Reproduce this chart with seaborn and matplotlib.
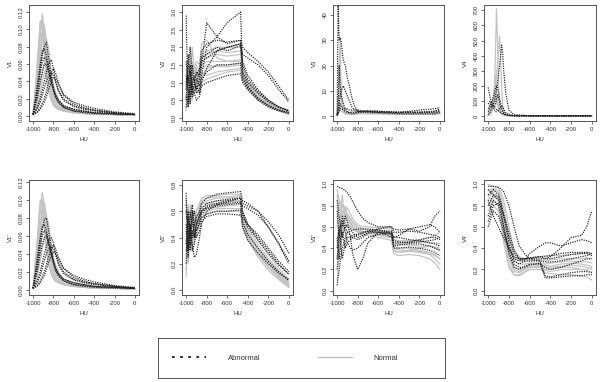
import pandas as pd
import matplotlib
matplotlib.use("Agg")
import matplotlib.pyplot as plt
import seaborn as sns
from matplotlib.lines import Line2D

# ------------------------------------------------------------
# curves (a few representative per group)
# ------------------------------------------------------------
hu_v1 = [-1000, -960, -930, -910, -890, -870, -850, -820, -800, -780, -750, -700, -600, -500, -400, -200, 0]
v1_normal = [
    [0.002, 0.04, 0.09, 0.118, 0.10, 0.07, 0.045, 0.025, 0.018, 0.013, 0.01, 0.007, 0.005, 0.004, 0.003, 0.002, 0.001],
    [0.002, 0.03, 0.07, 0.095, 0.105, 0.09, 0.06, 0.035, 0.025, 0.018, 0.012, 0.008, 0.005, 0.004, 0.003, 0.002, 0.001],
    [0.002, 0.02, 0.05, 0.07, 0.085, 0.09, 0.08, 0.05, 0.035, 0.025, 0.016, 0.01, 0.006, 0.004, 0.003, 0.002, 0.001],
    [0.002, 0.015, 0.035, 0.05, 0.06, 0.065, 0.06, 0.045, 0.035, 0.028, 0.02, 0.012, 0.007, 0.005, 0.003, 0.002, 0.001],
    [0.002, 0.05, 0.10, 0.11, 0.08, 0.05, 0.03, 0.018, 0.013, 0.01, 0.008, 0.006, 0.004, 0.003, 0.002, 0.002, 0.001],
    [0.002, 0.06, 0.11, 0.10, 0.07, 0.045, 0.03, 0.018, 0.013, 0.01, 0.008, 0.006, 0.004, 0.003, 0.002, 0.002, 0.001],
    [0.002, 0.025, 0.06, 0.085, 0.095, 0.08, 0.055, 0.03, 0.022, 0.016, 0.011, 0.007, 0.005, 0.004, 0.003, 0.002, 0.001],
    [0.002, 0.035, 0.075, 0.10, 0.09, 0.065, 0.04, 0.022, 0.016, 0.012, 0.009, 0.006, 0.004, 0.003, 0.002, 0.002, 0.001],
    [0.002, 0.01, 0.025, 0.04, 0.05, 0.055, 0.055, 0.045, 0.036, 0.027, 0.018, 0.011, 0.006, 0.004, 0.003, 0.002, 0.001],
]
v1_abnormal = [
    [0.002, 0.03, 0.055, 0.07, 0.08, 0.085, 0.07, 0.045, 0.032, 0.024, 0.018, 0.012, 0.008, 0.006, 0.004, 0.003, 0.002],
    [0.002, 0.01, 0.02, 0.03, 0.04, 0.05, 0.06, 0.065, 0.055, 0.04, 0.028, 0.018, 0.011, 0.008, 0.006, 0.004, 0.002],
    [0.002, 0.005, 0.01, 0.015, 0.02, 0.028, 0.038, 0.05, 0.055, 0.05, 0.038, 0.024, 0.014, 0.01, 0.007, 0.004, 0.002],
    [0.002, 0.004, 0.008, 0.012, 0.016, 0.022, 0.03, 0.04, 0.045, 0.044, 0.036, 0.025, 0.016, 0.012, 0.009, 0.005, 0.003],
    [0.002, 0.02, 0.04, 0.05, 0.06, 0.06, 0.052, 0.038, 0.03, 0.022, 0.016, 0.01, 0.006, 0.004, 0.003, 0.002, 0.002],
    [0.002, 0.025, 0.05, 0.062, 0.068, 0.065, 0.055, 0.04, 0.032, 0.025, 0.018, 0.012, 0.008, 0.006, 0.004, 0.003, 0.002],
    [0.002, 0.008, 0.016, 0.024, 0.032, 0.04, 0.046, 0.05, 0.048, 0.04, 0.03, 0.02, 0.012, 0.009, 0.007, 0.004, 0.002],
    [0.002, 0.035, 0.06, 0.075, 0.078, 0.07, 0.058, 0.04, 0.03, 0.022, 0.015, 0.01, 0.006, 0.005, 0.004, 0.003, 0.002],
]

hu_v2 = [-1000, -980, -960, -940, -900, -870, -850, -800, -700, -600, -470, -450, -400, -300, -200, -100, 0]
v2_normal = [
    [0.3, 1.2, 0.6, 1.6, 1.0, 0.8, 1.2, 1.4, 1.5, 1.5, 1.55, 1.2, 0.9, 0.6, 0.4, 0.25, 0.15],
    [1.0, 0.5, 1.8, 0.9, 1.4, 1.0, 1.6, 1.7, 1.8, 1.75, 1.8, 1.3, 1.0, 0.65, 0.45, 0.3, 0.2],
    [0.6, 1.5, 1.0, 2.0, 0.7, 1.2, 1.8, 1.9, 2.0, 2.0, 2.0, 1.4, 1.05, 0.7, 0.5, 0.3, 0.2],
    [0.2, 0.9, 1.3, 0.5, 1.1, 0.9, 1.3, 1.2, 1.3, 1.35, 1.4, 1.1, 0.8, 0.5, 0.35, 0.2, 0.1],
    [1.4, 0.7, 0.4, 1.2, 1.6, 1.5, 2.1, 2.2, 1.7, 1.6, 1.6, 1.25, 0.95, 0.55, 0.4, 0.25, 0.15],
    [0.8, 1.6, 0.9, 1.4, 1.2, 1.1, 1.5, 1.6, 1.6, 1.6, 1.65, 1.25, 0.95, 0.6, 0.4, 0.25, 0.15],
    [0.4, 1.0, 1.5, 1.1, 0.9, 1.3, 1.7, 1.8, 1.9, 1.85, 1.9, 1.35, 1.0, 0.65, 0.45, 0.28, 0.18],
    [1.1, 0.3, 0.8, 1.5, 1.3, 0.7, 1.0, 1.1, 1.2, 1.3, 1.35, 1.05, 0.8, 0.5, 0.33, 0.2, 0.1],
    [0.5, 1.3, 0.7, 1.0, 1.5, 1.3, 1.4, 1.5, 1.45, 1.45, 1.5, 1.15, 0.85, 0.55, 0.38, 0.22, 0.12],
]
v2_abnormal = [
    [2.9, 0.3, 1.0, 0.6, 0.9, 0.7, 1.0, 1.4, 1.9, 2.0, 2.1, 1.2, 0.9, 0.55, 0.35, 0.22, 0.15],
    [0.5, 1.4, 2.0, 1.2, 0.8, 1.1, 1.5, 2.7, 2.3, 2.1, 2.2, 2.0, 1.85, 1.6, 1.3, 0.9, 0.5],
    [1.2, 0.8, 0.4, 1.0, 1.1, 0.9, 1.2, 2.0, 2.3, 2.7, 3.0, 1.3, 1.0, 0.7, 0.45, 0.3, 0.2],
    [0.8, 1.8, 1.1, 0.7, 1.3, 1.2, 1.7, 1.8, 2.0, 1.9, 2.05, 1.8, 1.7, 1.5, 1.2, 0.8, 0.45],
    [0.3, 0.6, 1.3, 0.9, 0.5, 0.6, 0.9, 1.0, 1.1, 1.2, 1.25, 1.0, 0.8, 0.5, 0.3, 0.2, 0.12],
    [1.6, 1.0, 1.5, 0.8, 1.0, 1.3, 1.6, 1.7, 1.9, 2.0, 2.1, 1.5, 1.1, 0.75, 0.5, 0.32, 0.2],
    [0.6, 0.4, 0.9, 1.5, 0.7, 0.8, 1.1, 1.3, 1.5, 1.5, 1.55, 1.1, 0.85, 0.55, 0.35, 0.22, 0.15],
    [1.0, 1.2, 0.6, 1.1, 1.2, 1.4, 1.9, 2.1, 2.2, 2.15, 2.2, 1.6, 1.2, 0.8, 0.5, 0.3, 0.2],
]

hu_v3 = [-1000, -990, -980, -970, -960, -940, -920, -900, -880, -860, -840, -800, -700, -600, -400, -200, -50, 0]
v3_normal = [
    [0.5, 5, 20, 30, 8, 2, 1, 1, 1, 1, 1, 1, 1.5, 1.5, 1.2, 1.2, 1.5, 2],
    [0.3, 2, 6, 12, 6, 3, 1.5, 1, 1, 1, 1, 1.5, 1.5, 1.5, 1.2, 1.2, 1.3, 1.5],
    [0.2, 1, 2, 3, 4, 3, 2, 1.5, 1.5, 2, 2, 2, 1.2, 1.0, 0.8, 0.9, 1, 1.2],
    [0.5, 8, 5, 3, 2, 1.5, 1, 1, 1, 1, 1, 1, 1, 1, 1, 1, 1, 1],
    [0.5, 3, 10, 18, 10, 4, 2, 1.5, 1.2, 1.2, 1.2, 1.5, 1.3, 1.2, 1.0, 1.0, 1.1, 1.2],
]
v3_abnormal = [
    [1, 44, 30, 31, 29, 22, 20, 15, 12, 8, 5, 2, 1.5, 1.5, 1.5, 1.5, 2, 3],
    [0.5, 3, 20, 12, 8, 5, 3, 2, 1.5, 1, 1, 1.5, 2, 2, 1.5, 1.5, 1.5, 2],
    [0.5, 2, 5, 8, 10, 12, 10, 8, 6, 4, 3, 2, 2, 1.5, 1, 1, 1, 1.5],
    [0.3, 1, 2, 3, 3, 2.5, 2, 1.5, 1.5, 1.5, 1.5, 1.8, 2.2, 2.0, 1.5, 2.5, 3, 3.5],
    [0.5, 1, 3, 5, 4, 3, 3, 3, 2.5, 2.5, 2.5, 2.5, 2, 2, 1.8, 1.8, 2, 2.5],
]

hu_v4 = [-1000, -980, -960, -940, -930, -920, -910, -900, -890, -880, -870, -860, -850, -830, -800, -750, -600, -400, 0]
v4_normal = [
    [5, 10, 30, 150, 400, 710, 500, 200, 80, 30, 15, 10, 8, 5, 3, 2, 2, 2, 2],
    [5, 20, 60, 120, 200, 280, 350, 420, 530, 400, 200, 80, 30, 10, 5, 3, 2, 2, 2],
    [10, 30, 80, 200, 270, 180, 100, 60, 40, 25, 15, 10, 8, 5, 3, 2, 2, 2, 2],
    [20, 60, 90, 120, 110, 90, 70, 50, 40, 30, 20, 15, 10, 6, 4, 3, 2, 2, 2],
    [3, 10, 40, 90, 150, 120, 80, 50, 30, 20, 12, 8, 6, 4, 3, 2, 2, 2, 2],
]
v4_abnormal = [
    [10, 30, 60, 100, 130, 170, 220, 280, 330, 400, 470, 420, 300, 150, 40, 10, 3, 2, 2],
    [190, 120, 80, 60, 50, 45, 40, 35, 30, 25, 20, 15, 12, 8, 5, 3, 2, 2, 2],
    [30, 60, 100, 150, 180, 200, 190, 160, 120, 90, 60, 40, 25, 12, 6, 3, 2, 2, 2],
    [50, 80, 60, 40, 30, 30, 35, 40, 50, 60, 70, 60, 45, 25, 10, 4, 2, 2, 2],
    [80, 100, 70, 60, 80, 110, 140, 120, 90, 60, 40, 25, 15, 8, 4, 3, 2, 2, 2],
]

hu_v1s = [-1000, -960, -930, -910, -890, -870, -850, -820, -800, -780, -750, -700, -600, -500, -400, -200, 0]
v1s_normal = [
    [0.002, 0.04, 0.085, 0.108, 0.095, 0.068, 0.045, 0.026, 0.018, 0.013, 0.01, 0.007, 0.005, 0.004, 0.003, 0.002, 0.001],
    [0.002, 0.03, 0.065, 0.088, 0.097, 0.085, 0.06, 0.035, 0.025, 0.018, 0.012, 0.008, 0.005, 0.004, 0.003, 0.002, 0.001],
    [0.002, 0.02, 0.045, 0.065, 0.078, 0.082, 0.075, 0.05, 0.036, 0.026, 0.017, 0.01, 0.006, 0.004, 0.003, 0.002, 0.001],
    [0.002, 0.014, 0.032, 0.045, 0.055, 0.06, 0.058, 0.045, 0.036, 0.028, 0.02, 0.012, 0.007, 0.005, 0.003, 0.002, 0.001],
    [0.002, 0.05, 0.095, 0.10, 0.075, 0.05, 0.03, 0.018, 0.013, 0.01, 0.008, 0.006, 0.004, 0.003, 0.002, 0.002, 0.001],
    [0.002, 0.055, 0.10, 0.092, 0.068, 0.045, 0.028, 0.017, 0.012, 0.01, 0.008, 0.006, 0.004, 0.003, 0.002, 0.002, 0.001],
    [0.002, 0.025, 0.055, 0.078, 0.088, 0.075, 0.052, 0.03, 0.022, 0.016, 0.011, 0.007, 0.005, 0.004, 0.003, 0.002, 0.001],
    [0.002, 0.035, 0.07, 0.092, 0.085, 0.062, 0.04, 0.022, 0.016, 0.012, 0.009, 0.006, 0.004, 0.003, 0.002, 0.002, 0.001],
]
v1s_abnormal = [
    [0.002, 0.03, 0.055, 0.068, 0.078, 0.08, 0.068, 0.045, 0.032, 0.024, 0.018, 0.012, 0.008, 0.006, 0.004, 0.003, 0.002],
    [0.002, 0.01, 0.02, 0.03, 0.04, 0.048, 0.056, 0.058, 0.052, 0.04, 0.028, 0.018, 0.011, 0.008, 0.006, 0.004, 0.002],
    [0.002, 0.005, 0.01, 0.015, 0.02, 0.028, 0.036, 0.046, 0.05, 0.046, 0.036, 0.024, 0.014, 0.01, 0.007, 0.004, 0.002],
    [0.002, 0.004, 0.008, 0.012, 0.016, 0.022, 0.03, 0.038, 0.042, 0.041, 0.034, 0.024, 0.016, 0.012, 0.009, 0.005, 0.003],
    [0.002, 0.02, 0.04, 0.05, 0.058, 0.06, 0.052, 0.038, 0.03, 0.022, 0.016, 0.01, 0.006, 0.004, 0.003, 0.002, 0.002],
    [0.002, 0.025, 0.048, 0.06, 0.066, 0.063, 0.054, 0.04, 0.032, 0.025, 0.018, 0.012, 0.008, 0.006, 0.004, 0.003, 0.002],
    [0.002, 0.008, 0.016, 0.024, 0.032, 0.04, 0.045, 0.048, 0.046, 0.04, 0.03, 0.02, 0.012, 0.009, 0.007, 0.004, 0.002],
    [0.002, 0.035, 0.058, 0.07, 0.073, 0.066, 0.055, 0.04, 0.03, 0.022, 0.015, 0.01, 0.006, 0.005, 0.004, 0.003, 0.002],
]

hu_v2s = [-1000, -980, -960, -940, -920, -900, -870, -850, -800, -700, -600, -470, -450, -400, -300, -200, -100, 0]
v2s_normal = [
    [0.1, 0.5, 0.3, 0.6, 0.45, 0.5, 0.55, 0.6, 0.62, 0.63, 0.64, 0.65, 0.5, 0.4, 0.28, 0.18, 0.1, 0.03],
    [0.6, 0.3, 0.55, 0.4, 0.5, 0.45, 0.58, 0.65, 0.68, 0.7, 0.7, 0.71, 0.55, 0.45, 0.32, 0.22, 0.13, 0.05],
    [0.35, 0.65, 0.45, 0.3, 0.55, 0.5, 0.5, 0.55, 0.58, 0.6, 0.6, 0.6, 0.47, 0.38, 0.25, 0.15, 0.08, 0.02],
    [0.5, 0.2, 0.4, 0.55, 0.35, 0.6, 0.66, 0.7, 0.72, 0.72, 0.73, 0.73, 0.6, 0.5, 0.38, 0.27, 0.17, 0.08],
    [0.7, 0.4, 0.6, 0.5, 0.6, 0.55, 0.62, 0.66, 0.66, 0.68, 0.68, 0.68, 0.52, 0.43, 0.3, 0.2, 0.11, 0.04],
    [0.25, 0.6, 0.4, 0.5, 0.6, 0.55, 0.6, 0.63, 0.65, 0.66, 0.67, 0.68, 0.53, 0.44, 0.31, 0.2, 0.12, 0.04],
    [0.55, 0.35, 0.65, 0.45, 0.4, 0.6, 0.64, 0.68, 0.7, 0.71, 0.71, 0.72, 0.58, 0.47, 0.35, 0.24, 0.15, 0.06],
    [0.15, 0.45, 0.55, 0.35, 0.5, 0.4, 0.52, 0.57, 0.6, 0.62, 0.62, 0.62, 0.5, 0.4, 0.27, 0.17, 0.09, 0.02],
]
v2s_abnormal = [
    [0.74, 0.3, 0.5, 0.35, 0.25, 0.27, 0.4, 0.5, 0.6, 0.65, 0.67, 0.7, 0.66, 0.64, 0.6, 0.52, 0.42, 0.28],
    [0.2, 0.55, 0.35, 0.45, 0.4, 0.5, 0.55, 0.6, 0.64, 0.66, 0.68, 0.7, 0.6, 0.5, 0.4, 0.3, 0.2, 0.12],
    [0.45, 0.25, 0.6, 0.5, 0.45, 0.4, 0.45, 0.52, 0.56, 0.58, 0.58, 0.57, 0.55, 0.5, 0.42, 0.32, 0.22, 0.14],
    [0.6, 0.45, 0.3, 0.6, 0.5, 0.55, 0.6, 0.66, 0.7, 0.73, 0.74, 0.75, 0.68, 0.66, 0.6, 0.48, 0.35, 0.2],
    [0.3, 0.4, 0.5, 0.3, 0.35, 0.45, 0.5, 0.55, 0.58, 0.6, 0.6, 0.61, 0.48, 0.38, 0.28, 0.2, 0.13, 0.08],
    [0.65, 0.5, 0.4, 0.55, 0.6, 0.5, 0.58, 0.62, 0.66, 0.68, 0.69, 0.7, 0.58, 0.48, 0.38, 0.28, 0.19, 0.12],
    [0.35, 0.6, 0.45, 0.4, 0.5, 0.45, 0.52, 0.58, 0.62, 0.64, 0.65, 0.66, 0.64, 0.62, 0.57, 0.48, 0.36, 0.22],
    [0.5, 0.3, 0.55, 0.65, 0.4, 0.5, 0.56, 0.6, 0.63, 0.65, 0.66, 0.67, 0.52, 0.42, 0.32, 0.22, 0.14, 0.07],
]

hu_v3s = [-1000, -980, -950, -920, -900, -870, -850, -800, -750, -700, -600, -500, -470, -450, -400, -300, -200, -100, -50, 0]
v3s_normal = [
    [0.9, 0.75, 0.8, 0.7, 0.72, 0.68, 0.65, 0.6, 0.58, 0.57, 0.56, 0.55, 0.55, 0.42, 0.4, 0.4, 0.38, 0.36, 0.34, 0.3],
    [0.6, 0.85, 0.7, 0.8, 0.7, 0.65, 0.6, 0.55, 0.53, 0.52, 0.5, 0.48, 0.47, 0.35, 0.33, 0.34, 0.33, 0.3, 0.26, 0.2],
    [0.3, 0.5, 0.65, 0.75, 0.78, 0.72, 0.68, 0.62, 0.6, 0.6, 0.59, 0.58, 0.58, 0.48, 0.47, 0.47, 0.46, 0.45, 0.45, 0.44],
    [0.7, 0.6, 0.9, 0.65, 0.6, 0.6, 0.58, 0.57, 0.55, 0.55, 0.54, 0.52, 0.5, 0.38, 0.36, 0.38, 0.4, 0.42, 0.4, 0.38],
    [0.1, 0.35, 0.5, 0.6, 0.62, 0.6, 0.58, 0.55, 0.53, 0.52, 0.52, 0.5, 0.5, 0.45, 0.44, 0.45, 0.47, 0.5, 0.52, 0.55],
    [0.8, 0.65, 0.75, 0.72, 0.68, 0.64, 0.62, 0.58, 0.56, 0.55, 0.54, 0.53, 0.52, 0.4, 0.38, 0.38, 0.37, 0.35, 0.33, 0.3],
    [0.45, 0.7, 0.6, 0.68, 0.66, 0.62, 0.6, 0.56, 0.55, 0.54, 0.53, 0.51, 0.5, 0.37, 0.36, 0.37, 0.36, 0.34, 0.3, 0.25],
    [0.95, 0.85, 0.8, 0.76, 0.72, 0.68, 0.64, 0.6, 0.58, 0.57, 0.56, 0.54, 0.53, 0.44, 0.43, 0.43, 0.42, 0.42, 0.41, 0.4],
]
v3s_abnormal = [
    [0.98, 0.97, 0.96, 0.94, 0.92, 0.88, 0.84, 0.75, 0.68, 0.64, 0.6, 0.6, 0.6, 0.58, 0.57, 0.58, 0.56, 0.6, 0.7, 0.75],
    [0.5, 0.3, 0.6, 0.7, 0.65, 0.5, 0.35, 0.2, 0.3, 0.45, 0.55, 0.52, 0.5, 0.5, 0.52, 0.58, 0.6, 0.62, 0.6, 0.55],
    [0.05, 0.2, 0.4, 0.5, 0.55, 0.52, 0.5, 0.48, 0.5, 0.55, 0.57, 0.55, 0.53, 0.42, 0.43, 0.44, 0.44, 0.42, 0.4, 0.38],
    [0.4, 0.6, 0.3, 0.45, 0.5, 0.5, 0.52, 0.53, 0.55, 0.56, 0.55, 0.55, 0.55, 0.5, 0.5, 0.48, 0.47, 0.45, 0.44, 0.42],
    [0.75, 0.5, 0.65, 0.55, 0.45, 0.4, 0.38, 0.4, 0.45, 0.5, 0.53, 0.54, 0.54, 0.45, 0.45, 0.46, 0.48, 0.5, 0.5, 0.48],
    [0.3, 0.55, 0.7, 0.6, 0.55, 0.56, 0.57, 0.58, 0.58, 0.58, 0.57, 0.56, 0.56, 0.47, 0.46, 0.45, 0.46, 0.47, 0.48, 0.5],
    [0.85, 0.7, 0.5, 0.62, 0.6, 0.58, 0.55, 0.5, 0.52, 0.54, 0.55, 0.54, 0.53, 0.4, 0.4, 0.41, 0.4, 0.38, 0.36, 0.33],
    [0.2, 0.45, 0.55, 0.4, 0.45, 0.48, 0.5, 0.52, 0.54, 0.56, 0.58, 0.6, 0.6, 0.55, 0.55, 0.56, 0.55, 0.53, 0.52, 0.5],
]

hu_v4s = [-1000, -950, -900, -880, -850, -800, -750, -700, -650, -600, -500, -450, -400, -300, -200, -100, -50, 0]
v4s_normal = [
    [0.95, 0.9, 0.85, 0.75, 0.55, 0.3, 0.18, 0.17, 0.2, 0.22, 0.22, 0.2, 0.2, 0.22, 0.22, 0.2, 0.19, 0.18],
    [0.85, 0.95, 0.92, 0.85, 0.7, 0.42, 0.28, 0.25, 0.25, 0.26, 0.26, 0.25, 0.26, 0.27, 0.28, 0.27, 0.27, 0.26],
    [0.75, 0.85, 0.8, 0.7, 0.5, 0.25, 0.15, 0.14, 0.17, 0.2, 0.2, 0.19, 0.18, 0.2, 0.2, 0.2, 0.2, 0.22],
    [1.0, 0.98, 0.97, 0.93, 0.85, 0.6, 0.38, 0.32, 0.3, 0.31, 0.32, 0.33, 0.33, 0.33, 0.34, 0.35, 0.36, 0.35],
    [0.9, 0.8, 0.75, 0.65, 0.45, 0.22, 0.15, 0.15, 0.18, 0.2, 0.2, 0.17, 0.16, 0.15, 0.15, 0.14, 0.13, 0.1],
    [0.9, 0.92, 0.88, 0.8, 0.62, 0.35, 0.22, 0.2, 0.21, 0.23, 0.23, 0.22, 0.22, 0.23, 0.24, 0.23, 0.22, 0.2],
    [0.8, 0.88, 0.86, 0.78, 0.6, 0.32, 0.2, 0.18, 0.2, 0.22, 0.24, 0.24, 0.23, 0.25, 0.26, 0.25, 0.24, 0.23],
    [0.95, 0.96, 0.94, 0.9, 0.78, 0.5, 0.32, 0.28, 0.27, 0.28, 0.29, 0.28, 0.29, 0.3, 0.3, 0.3, 0.31, 0.3],
]
v4s_abnormal = [
    [0.6, 0.75, 0.7, 0.65, 0.55, 0.4, 0.3, 0.28, 0.3, 0.3, 0.32, 0.3, 0.3, 0.32, 0.34, 0.35, 0.35, 0.33],
    [0.98, 0.98, 0.97, 0.96, 0.93, 0.8, 0.6, 0.42, 0.35, 0.3, 0.3, 0.3, 0.32, 0.4, 0.5, 0.52, 0.6, 0.75],
    [0.85, 0.7, 0.6, 0.55, 0.5, 0.4, 0.32, 0.3, 0.3, 0.3, 0.28, 0.14, 0.13, 0.15, 0.17, 0.18, 0.18, 0.17],
    [0.9, 0.95, 0.9, 0.85, 0.7, 0.45, 0.28, 0.25, 0.28, 0.35, 0.42, 0.45, 0.45, 0.42, 0.45, 0.48, 0.47, 0.45],
    [0.7, 0.85, 0.8, 0.72, 0.6, 0.35, 0.22, 0.2, 0.23, 0.25, 0.25, 0.22, 0.2, 0.22, 0.25, 0.28, 0.3, 0.3],
    [0.8, 0.9, 0.88, 0.82, 0.7, 0.5, 0.35, 0.3, 0.3, 0.31, 0.32, 0.32, 0.33, 0.35, 0.36, 0.36, 0.36, 0.35],
    [0.95, 0.9, 0.85, 0.78, 0.6, 0.38, 0.25, 0.22, 0.22, 0.24, 0.26, 0.12, 0.12, 0.13, 0.14, 0.14, 0.15, 0.15],
    [0.65, 0.8, 0.82, 0.8, 0.72, 0.55, 0.38, 0.3, 0.28, 0.28, 0.28, 0.27, 0.27, 0.28, 0.3, 0.32, 0.33, 0.35],
]

x_ticks = [-1000, -800, -600, -400, -200, 0]


def to_long(hu, normal, abnormal):
    rows = []
    for grp, curves in (("Normal", normal), ("Abnormal", abnormal)):
        for i, c in enumerate(curves):
            for h, v in zip(hu, c):
                rows.append((grp, f"{grp}{i}", h, v))
    return pd.DataFrame(rows, columns=["group", "curve", "HU", "value"])


# name, data, ylim, yticks, fmt
panels = [
    ("V1", to_long(hu_v1, v1_normal, v1_abnormal), (-0.0055, 0.128), [0, 0.02, 0.04, 0.06, 0.08, 0.10, 0.12], "{:.2f}"),
    ("V2", to_long(hu_v2, v2_normal, v2_abnormal), (-0.09, 3.2), [0, 0.5, 1.0, 1.5, 2.0, 2.5, 3.0], "{:.1f}"),
    ("V3", to_long(hu_v3, v3_normal, v3_abnormal), (-1.8, 43.8), [0, 10, 20, 30, 40], "{:.0f}"),
    ("V4", to_long(hu_v4, v4_normal, v4_abnormal), (-32, 735), [0, 100, 200, 300, 400, 500, 600, 700], "{:.0f}"),
    ("V1'", to_long(hu_v1s, v1s_normal, v1s_abnormal), (-0.0055, 0.122), [0, 0.02, 0.04, 0.06, 0.08, 0.10, 0.12], "{:.2f}"),
    ("V2'", to_long(hu_v2s, v2s_normal, v2s_abnormal), (-0.038, 0.838), [0, 0.2, 0.4, 0.6, 0.8], "{:.1f}"),
    ("V3'", to_long(hu_v3s, v3s_normal, v3s_abnormal), (-0.04, 1.04), [0, 0.2, 0.4, 0.6, 0.8, 1.0], "{:.1f}"),
    ("V4'", to_long(hu_v4s, v4s_normal, v4s_abnormal), (-0.04, 1.04), [0, 0.2, 0.4, 0.6, 0.8, 1.0], "{:.1f}"),
]

sns.set_style("ticks")
plt.rcParams["font.family"] = ["Liberation Sans", "DejaVu Sans"]

W, H = 600, 382
fig = plt.figure(figsize=(6, 3.82), dpi=100)

lefts = [29, 182, 333, 484]
rights = [139, 293, 444, 596]
rows_px = [(5, 121), (180, 295)]

pal = {"Normal": "#c2c2c2", "Abnormal": "#1e1e1e"}
dash = {"Normal": "", "Abnormal": (1.0, 1.0)}
fs = 4.3

for k, (name, df, ylim, yt, fmt) in enumerate(panels):
    r, c = divmod(k, 4)
    top, bot = rows_px[r]
    ax = fig.add_axes([lefts[c] / W, 1 - bot / H, (rights[c] - lefts[c]) / W, (bot - top) / H])
    sns.lineplot(data=df, x="HU", y="value", hue="group", style="group", units="curve",
                 estimator=None, palette=pal, dashes=dash, hue_order=["Normal", "Abnormal"],
                 style_order=["Normal", "Abnormal"], linewidth=0.85, legend=False, ax=ax)
    ax.set_xlim(-1040, 40)
    ax.set_ylim(*ylim)
    ax.set_xticks(x_ticks)
    ax.set_xticklabels([str(t) for t in x_ticks])
    ax.set_yticks(yt)
    ax.set_yticklabels([fmt.format(t) for t in yt], rotation=90, va="center")
    ax.tick_params(direction="out", length=2.5, width=0.5, pad=1.5, labelsize=fs, colors="#333333")
    for sp in ax.spines.values():
        sp.set_linewidth(0.7)
        sp.set_color("#555555")
    ax.set_xlabel("HU", fontsize=fs, labelpad=4, color="#333333")
    ax.set_ylabel(name, fontsize=fs, labelpad=4, color="#333333")

# legend box at the bottom
lax = fig.add_axes([158 / W, 1 - 378 / H, (445 - 158) / W, 40 / H])
lax.set_xticks([])
lax.set_yticks([])
for sp in lax.spines.values():
    sp.set_linewidth(0.7)
    sp.set_color("#555555")
handles = [Line2D([], [], color="#1e1e1e", lw=1.3, ls=(0, (1.5, 3.0))),
           Line2D([], [], color="#c2c2c2", lw=1.0)]
lax.legend(handles, ["Abnormal", "Normal"], loc="center left", bbox_to_anchor=(0.025, 0.5),
           ncol=2, frameon=False, fontsize=5.5, handlelength=4.5, handletextpad=2.8,
           columnspacing=7.5, labelcolor="#333333")

fig.savefig("out.png", dpi=100)
